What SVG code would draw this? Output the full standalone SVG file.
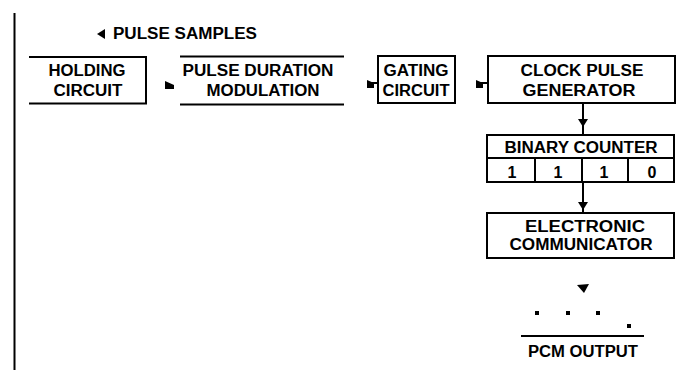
<svg xmlns="http://www.w3.org/2000/svg" width="685" height="372" viewBox="0 0 685 372">
<style>
.ln{stroke:#000;stroke-width:2;fill:none}
.bx{stroke:#000;stroke-width:2;fill:#fff}
.t{font-family:"Liberation Sans","Arial",sans-serif;font-weight:bold;font-size:16px;fill:#000;text-anchor:middle}
.ah{fill:#000}
</style>
<rect width="685" height="372" fill="#fff"/>
<line class="ln" x1="14.5" y1="13" x2="14.5" y2="370"/>
<g id="connectors">
<polygon class="ah" points="105,29 105,39 97,34"/>
<path class="ah" d="M165,81 L174,85 L174,89 L165,89 Z"/>
<line class="ln" x1="370" y1="83" x2="378" y2="83"/>
<path class="ah" d="M367,80 L374,83 L374,88 L367,88 Z"/>
<line class="ln" x1="479" y1="83" x2="488" y2="83"/>
<path class="ah" d="M476,80 L483,83 L483,88 L476,88 Z"/>
<line class="ln" x1="583" y1="103" x2="583" y2="135"/>
<polygon class="ah" points="578,119 588,119 583,127"/>
<line class="ln" x1="583" y1="182" x2="583" y2="213"/>
<polygon class="ah" points="578,202 588,202 583,210"/>
<polygon class="ah" points="577,285 589,284 584,293"/>
</g>
<g id="pulse-samples">
<text class="t" x="185" y="39" textLength="144" lengthAdjust="spacingAndGlyphs">PULSE SAMPLES</text>
</g>
<g id="holding-circuit">
<path class="ln" d="M29,57 H146 V103.5 H29"/>
<text class="t" x="87" y="76" textLength="77" lengthAdjust="spacingAndGlyphs">HOLDING</text>
<text class="t" x="88" y="96" textLength="69" lengthAdjust="spacingAndGlyphs">CIRCUIT</text>
</g>
<g id="pulse-duration-modulation">
<line class="ln" x1="180" y1="56.5" x2="344" y2="56.5"/>
<line class="ln" x1="180" y1="104.5" x2="344" y2="104.5"/>
<text class="t" x="258" y="76" textLength="151" lengthAdjust="spacingAndGlyphs">PULSE DURATION</text>
<text class="t" x="263" y="96" textLength="113" lengthAdjust="spacingAndGlyphs">MODULATION</text>
</g>
<g id="gating-circuit">
<rect class="bx" x="378" y="56" width="77" height="47"/>
<text class="t" x="416" y="76" textLength="65" lengthAdjust="spacingAndGlyphs">GATING</text>
<text class="t" x="416" y="96" textLength="67" lengthAdjust="spacingAndGlyphs">CIRCUIT</text>
</g>
<g id="clock-pulse-generator">
<rect class="bx" x="488" y="56" width="187" height="47"/>
<text class="t" x="582" y="76" textLength="123" lengthAdjust="spacingAndGlyphs">CLOCK PULSE</text>
<text class="t" x="579" y="96" textLength="113" lengthAdjust="spacingAndGlyphs">GENERATOR</text>
</g>
<g id="binary-counter">
<rect class="bx" x="487" y="135" width="187" height="47"/>
<line class="ln" x1="487" y1="158" x2="674" y2="158"/>
<line class="ln" x1="535" y1="158" x2="535" y2="182"/>
<line class="ln" x1="582" y1="158" x2="582" y2="182"/>
<line class="ln" x1="628" y1="158" x2="628" y2="182"/>
<text class="t" x="581" y="153" textLength="153" lengthAdjust="spacingAndGlyphs">BINARY COUNTER</text>
<text class="t" x="512" y="178">1</text>
<text class="t" x="558" y="178">1</text>
<text class="t" x="604" y="178">1</text>
<text class="t" x="652" y="178">0</text>
</g>
<g id="electronic-communicator">
<rect class="bx" x="487" y="213" width="187" height="45"/>
<text class="t" x="585" y="232" textLength="120" lengthAdjust="spacingAndGlyphs">ELECTRONIC</text>
<text class="t" x="581" y="250" textLength="143" lengthAdjust="spacingAndGlyphs">COMMUNICATOR</text>
</g>
<g id="pcm-output">
<rect class="ah" x="535" y="311" width="4" height="4"/>
<rect class="ah" x="566" y="311" width="4" height="4"/>
<rect class="ah" x="596" y="311" width="4" height="4"/>
<rect class="ah" x="627" y="324" width="4" height="4"/>
<line class="ln" x1="521" y1="336" x2="644" y2="336"/>
<text class="t" x="583" y="357" textLength="110" lengthAdjust="spacingAndGlyphs">PCM OUTPUT</text>
</g>
</svg>
